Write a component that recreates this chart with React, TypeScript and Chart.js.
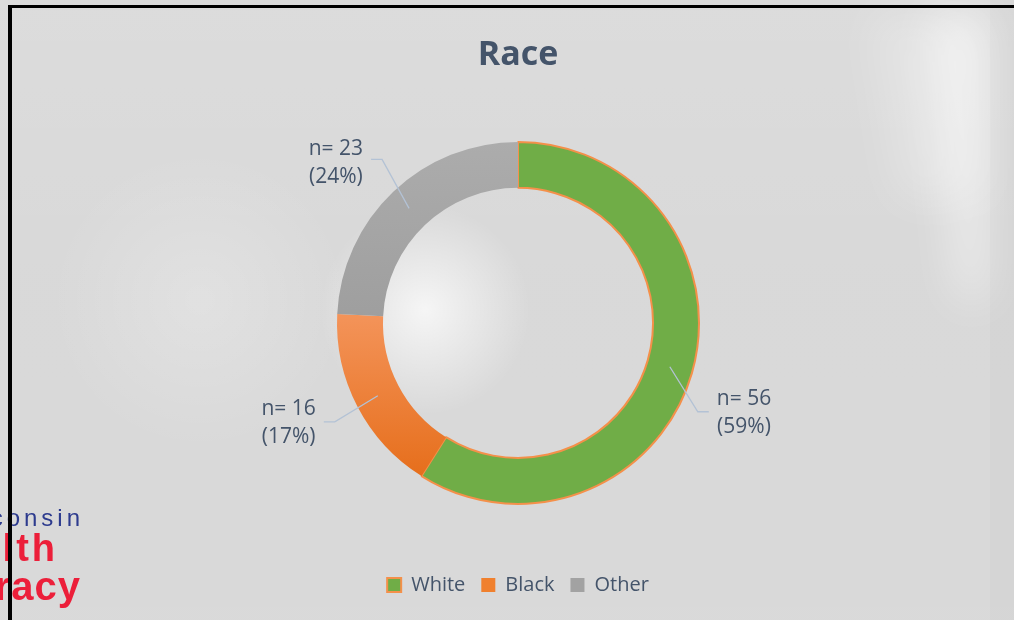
import React, { useEffect, useRef } from "react";
import { Chart, registerables } from "chart.js";

Chart.register(...registerables);

// ---- data ----
const categories = ["White", "Black", "Other"];
const counts = [56, 16, 23];
const titleText = "Race";
const logoLines = ["Wisconsin", "Health", "Literacy"];

// ---- style ----
const FONT = "'Open Sans', 'Noto Sans', sans-serif";
const TEXT = "#44546A";
const GREEN = "#70AD47";
const ORANGE_BORDER = "#F4904A";
const LEGEND_FILL = ["#70AD47", "#F0802E", "#A2A2A2"];

// label layout: elbow offset from ring anchor, side, vertical nudge
const labelElbow = [
  [28, 45],
  [-43, 26],
  [-27, -49],
];
const labelSide = [1, -1, -1];
const labelDy = [1, 1.5, 3.5];

export default function App() {
  const ref = useRef<HTMLCanvasElement>(null);

  useEffect(() => {
    const canvas = ref.current;
    if (!canvas) return;

    const bgPlugin = {
      id: "bg",
      beforeDraw(chart: any) {
        const ctx = chart.ctx as CanvasRenderingContext2D;
        const w = chart.width;
        const h = chart.height;
        ctx.save();
        ctx.fillStyle = "#D8D8D8";
        ctx.fillRect(0, 0, w, h);
        let g = ctx.createLinearGradient(0, 0, 0, h);
        g.addColorStop(0, "rgba(255,255,255,0.10)");
        g.addColorStop(0.45, "rgba(255,255,255,0.02)");
        g.addColorStop(1, "rgba(255,255,255,0.04)");
        ctx.fillStyle = g;
        ctx.fillRect(0, 0, w, h);
        // right bright band (soft)
        ctx.save();
        ctx.filter = "blur(22px)";
        ctx.fillStyle = "rgba(255,255,255,0.55)";
        ctx.beginPath();
        ctx.moveTo(930, 15);
        ctx.lineTo(985, 15);
        ctx.lineTo(985, 300);
        ctx.lineTo(960, 300);
        ctx.closePath();
        ctx.fill();
        ctx.fillStyle = "rgba(255,255,255,0.25)";
        ctx.beginPath();
        ctx.moveTo(870, 15);
        ctx.lineTo(985, 15);
        ctx.lineTo(985, 200);
        ctx.lineTo(900, 200);
        ctx.closePath();
        ctx.fill();
        ctx.restore();
        // inside-ring bright blob
        let r = ctx.createRadialGradient(425, 310, 0, 425, 310, 105);
        r.addColorStop(0, "rgba(255,255,255,0.75)");
        r.addColorStop(1, "rgba(255,255,255,0)");
        ctx.fillStyle = r;
        ctx.fillRect(300, 190, 260, 260);
        // left light blotch
        r = ctx.createRadialGradient(200, 300, 0, 200, 300, 150);
        r.addColorStop(0, "rgba(255,255,255,0.22)");
        r.addColorStop(1, "rgba(255,255,255,0)");
        ctx.fillStyle = r;
        ctx.fillRect(20, 140, 360, 330);
        // right edge strip
        ctx.fillStyle = "rgba(0,0,0,0.015)";
        ctx.fillRect(990, 0, 24, h);

        // partial logo
        ctx.textAlign = "right";
        ctx.textBaseline = "alphabetic";
        ctx.fillStyle = "#2D3B8E";
        ctx.font = "24px 'Liberation Sans', sans-serif";
        (ctx as any).letterSpacing = "4px";
        ctx.fillText(logoLines[0], 84, 526);
        ctx.fillStyle = "#EC1F3A";
        ctx.font = "bold 38px 'Liberation Sans', sans-serif";
        (ctx as any).letterSpacing = "3px";
        ctx.fillText(logoLines[1], 58, 561);
        ctx.font = "bold 40px 'Liberation Sans', sans-serif";
        (ctx as any).letterSpacing = "1px";
        ctx.fillText(logoLines[2], 81, 600);
        (ctx as any).letterSpacing = "0px";
        ctx.restore();
      },
      afterDraw(chart: any) {
        const ctx = chart.ctx as CanvasRenderingContext2D;
        ctx.save();
        ctx.fillStyle = "#000";
        ctx.fillRect(8, 5, chart.width - 8, 3);
        ctx.fillRect(8, 5, 4, chart.height - 5);
        ctx.restore();
      },
    };

    const labelPlugin = {
      id: "leaderLabels",
      afterDatasetsDraw(chart: any) {
        const ctx = chart.ctx as CanvasRenderingContext2D;
        const meta = chart.getDatasetMeta(0);
        const data = chart.data.datasets[0].data as number[];
        const total = data.reduce((a, b) => a + b, 0);
        ctx.save();
        meta.data.forEach((arc: any, i: number) => {
          const p = arc.getProps(
            ["x", "y", "startAngle", "endAngle", "innerRadius", "outerRadius"],
            true
          );
          const mid = (p.startAngle + p.endAngle) / 2;
          const rr = (p.innerRadius + p.outerRadius) / 2;
          const ax = p.x + Math.cos(mid) * rr;
          const ay = p.y + Math.sin(mid) * rr;
          const ex = ax + labelElbow[i][0];
          const ey = ay + labelElbow[i][1];
          const side = labelSide[i];
          const hx = ex + side * 11;
          ctx.strokeStyle = "#B3C2D5";
          ctx.lineWidth = 1.3;
          ctx.beginPath();
          ctx.moveTo(ax, ay);
          ctx.lineTo(ex, ey);
          ctx.lineTo(hx, ey);
          ctx.stroke();

          ctx.font = `21px ${FONT}`;
          ctx.fillStyle = TEXT;
          const l1 = `n= ${data[i]}`;
          const l2 = `(${Math.round((data[i] / total) * 100)}%)`;
          const bw = Math.max(ctx.measureText(l1).width, ctx.measureText(l2).width);
          const cx = hx + side * (8 + bw / 2);
          ctx.textAlign = "center";
          ctx.textBaseline = "middle";
          ctx.fillText(l1, cx, ey + labelDy[i] - 14);
          ctx.fillText(l2, cx, ey + labelDy[i] + 14);
        });
        ctx.restore();
      },
    };

    const bgColor = (c: any) => {
      const i = c.dataIndex;
      const chart = c.chart;
      const ca = chart.chartArea;
      if (i === 0) return GREEN;
      if (!ca) return LEGEND_FILL[i];
      const cy = (ca.top + ca.bottom) / 2;
      if (i === 1) {
        const g2 = chart.ctx.createLinearGradient(0, cy - 15, 0, cy + 155);
        g2.addColorStop(0, "#F4955C");
        g2.addColorStop(1, "#E66E1B");
        return g2;
      }
      const g = chart.ctx.createLinearGradient(0, cy - 181, 0, cy + 181);
      g.addColorStop(0, "#ACACAC");
      g.addColorStop(0.5, "#9E9E9E");
      g.addColorStop(1, "#9E9E9E");
      return g;
    };

    const chart = new Chart(canvas, {
      type: "doughnut",
      data: {
        labels: categories,
        datasets: [
          {
            data: counts,
            backgroundColor: bgColor as any,
            borderColor: [ORANGE_BORDER, "rgba(0,0,0,0)", "rgba(0,0,0,0)"],
            borderWidth: [2, 0, 0],
            hoverOffset: 0,
            offset: 0,
          },
        ],
      },
      options: {
        responsive: false,
        animation: false,
        radius: 181,
        cutout: "74.6%",
        layout: { padding: { left: 22, right: 0, top: 0, bottom: 15 } },
        plugins: {
          tooltip: { enabled: false },
          title: {
            display: true,
            text: titleText,
            color: TEXT,
            font: { family: FONT, size: 34, weight: "bold" },
            padding: { top: 35, bottom: 11 },
          },
          legend: {
            display: true,
            position: "bottom",
            labels: {
              boxWidth: 14,
              boxHeight: 14,
              padding: 16,
              color: TEXT,
              font: { family: FONT, size: 20 },
              generateLabels: () =>
                categories.map((c, i) => ({
                  text: c,
                  fillStyle: LEGEND_FILL[i],
                  strokeStyle: i === 0 ? ORANGE_BORDER : LEGEND_FILL[i],
                  lineWidth: i === 0 ? 2 : 0,
                  hidden: false,
                  index: i,
                  fontColor: TEXT,
                })),
            },
          },
        },
      } as any,
      plugins: [bgPlugin, labelPlugin],
    });

    return () => chart.destroy();
  }, []);

  return (
    <div
      style={{
        position: "absolute",
        left: 0,
        top: 0,
        width: 1014,
        height: 620,
        overflow: "hidden",
      }}
    >
      <canvas ref={ref} width={1014} height={620} style={{ display: "block" }} />
    </div>
  );
}
